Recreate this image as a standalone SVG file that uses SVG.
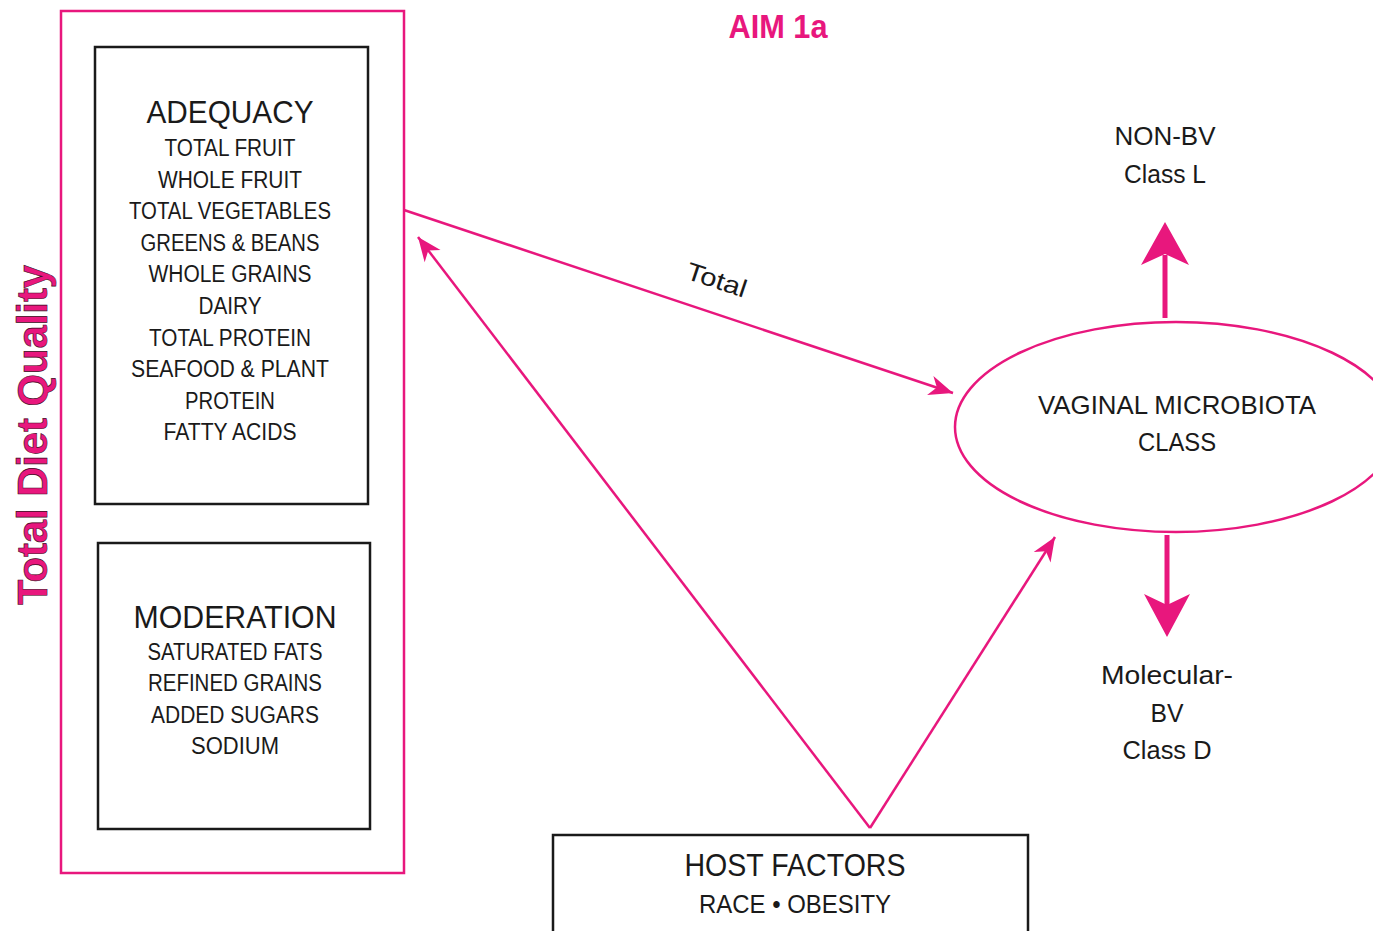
<svg xmlns="http://www.w3.org/2000/svg" width="1373" height="931" viewBox="0 0 1373 931">
<style>
.t{font-family:"Liberation Sans",Arial,sans-serif;fill:#1a1a1a;text-anchor:middle}
.h{font-size:31px}
.i{font-size:23px}
.box{fill:none;stroke:#1a1a1a;stroke-width:2.5}
.pk{fill:none;stroke:#e8177d;stroke-width:2.5}
.thick{fill:none;stroke:#e8177d;stroke-width:5}
.head{fill:#e8177d}
</style>
<defs>
<marker id="arr" markerUnits="userSpaceOnUse" markerWidth="30" markerHeight="30" viewBox="-26 -12 30 24" refX="0" refY="0" orient="auto">
<path d="M0,0 L-24,-10 L-17,0 L-24,10 Z" fill="#e8177d"/>
</marker>
</defs>
<rect width="1373" height="931" fill="#ffffff"/>
<text x="778" y="38" style="font-family:'Liberation Sans',Arial,sans-serif;font-weight:bold;font-size:33px;fill:#e8177d;text-anchor:middle" textLength="99" lengthAdjust="spacingAndGlyphs">AIM 1a</text>
<g id="diet-quality">
<rect class="pk" x="61" y="11" width="343" height="862"/>
<text transform="translate(47,435) rotate(-90)" style="font-family:'Liberation Sans',Arial,sans-serif;font-size:43px;font-weight:bold;fill:#e8177d;stroke:#3a0a20;stroke-width:0.6;text-anchor:middle" textLength="340" lengthAdjust="spacingAndGlyphs">Total Diet Quality</text>
</g>
<g id="adequacy">
<rect class="box" x="95" y="47" width="273" height="457"/>
<text class="t h" x="230" y="123" textLength="167" lengthAdjust="spacingAndGlyphs">ADEQUACY</text>
<text class="t i" x="230" y="156" textLength="131" lengthAdjust="spacingAndGlyphs">TOTAL FRUIT</text>
<text class="t i" x="230" y="188" textLength="144" lengthAdjust="spacingAndGlyphs">WHOLE FRUIT</text>
<text class="t i" x="230" y="219" textLength="202" lengthAdjust="spacingAndGlyphs">TOTAL VEGETABLES</text>
<text class="t i" x="230" y="251" textLength="179" lengthAdjust="spacingAndGlyphs">GREENS &amp; BEANS</text>
<text class="t i" x="230" y="282" textLength="163" lengthAdjust="spacingAndGlyphs">WHOLE GRAINS</text>
<text class="t i" x="230" y="314" textLength="63" lengthAdjust="spacingAndGlyphs">DAIRY</text>
<text class="t i" x="230" y="346" textLength="162" lengthAdjust="spacingAndGlyphs">TOTAL PROTEIN</text>
<text class="t i" x="230" y="377" textLength="198" lengthAdjust="spacingAndGlyphs">SEAFOOD &amp; PLANT</text>
<text class="t i" x="230" y="409" textLength="90" lengthAdjust="spacingAndGlyphs">PROTEIN</text>
<text class="t i" x="230" y="440" textLength="133" lengthAdjust="spacingAndGlyphs">FATTY ACIDS</text>
</g>
<g id="moderation">
<rect class="box" x="98" y="543" width="272" height="286"/>
<text class="t h" x="235" y="628" textLength="203" lengthAdjust="spacingAndGlyphs">MODERATION</text>
<text class="t i" x="235" y="660" textLength="175" lengthAdjust="spacingAndGlyphs">SATURATED FATS</text>
<text class="t i" x="235" y="691" textLength="174" lengthAdjust="spacingAndGlyphs">REFINED GRAINS</text>
<text class="t i" x="235" y="723" textLength="168" lengthAdjust="spacingAndGlyphs">ADDED SUGARS</text>
<text class="t i" x="235" y="754" textLength="88" lengthAdjust="spacingAndGlyphs">SODIUM</text>
</g>
<g id="host-factors">
<rect class="box" x="553" y="835" width="475" height="110"/>
<text class="t h" x="795" y="876" textLength="221" lengthAdjust="spacingAndGlyphs">HOST FACTORS</text>
<text class="t i" x="795" y="913" style="font-size:26px" textLength="192" lengthAdjust="spacingAndGlyphs">RACE • OBESITY</text>
</g>
<g id="microbiota">
<ellipse class="pk" cx="1176" cy="427" rx="221" ry="105"/>
<text class="t i" x="1177" y="414" style="font-size:26px" textLength="278" lengthAdjust="spacingAndGlyphs">VAGINAL MICROBIOTA</text>
<text class="t i" x="1177" y="451" style="font-size:26px" textLength="78" lengthAdjust="spacingAndGlyphs">CLASS</text>
</g>
<g id="non-bv">
<text class="t i" x="1165" y="145" style="font-size:26px" textLength="101" lengthAdjust="spacingAndGlyphs">NON-BV</text>
<text class="t i" x="1165" y="183" style="font-size:26px" textLength="82" lengthAdjust="spacingAndGlyphs">Class L</text>
</g>
<g id="molecular-bv">
<text class="t i" x="1167" y="684" style="font-size:26px" textLength="132" lengthAdjust="spacingAndGlyphs">Molecular-</text>
<text class="t i" x="1167" y="722" style="font-size:26px" textLength="33" lengthAdjust="spacingAndGlyphs">BV</text>
<text class="t i" x="1167" y="759" style="font-size:26px" textLength="89" lengthAdjust="spacingAndGlyphs">Class D</text>
</g>
<g id="connectors">
<line class="pk" x1="404" y1="210" x2="953" y2="393" marker-end="url(#arr)"/>
<text class="t" transform="translate(714,288) rotate(18.4)" style="font-size:25px" textLength="62" lengthAdjust="spacingAndGlyphs">Total</text>
<line class="pk" x1="870" y1="828" x2="418" y2="237" marker-end="url(#arr)"/>
<line class="pk" x1="870" y1="828" x2="1055" y2="537" marker-end="url(#arr)"/>
<line class="thick" x1="1165" y1="318" x2="1165" y2="255"/>
<path class="head" d="M1165,222 L1189,265 L1165,254 L1141,265 Z"/>
<line class="thick" x1="1167" y1="535" x2="1167" y2="605"/>
<path class="head" d="M1167,637 L1190,594 L1167,605 L1144,594 Z"/>
</g>
</svg>
